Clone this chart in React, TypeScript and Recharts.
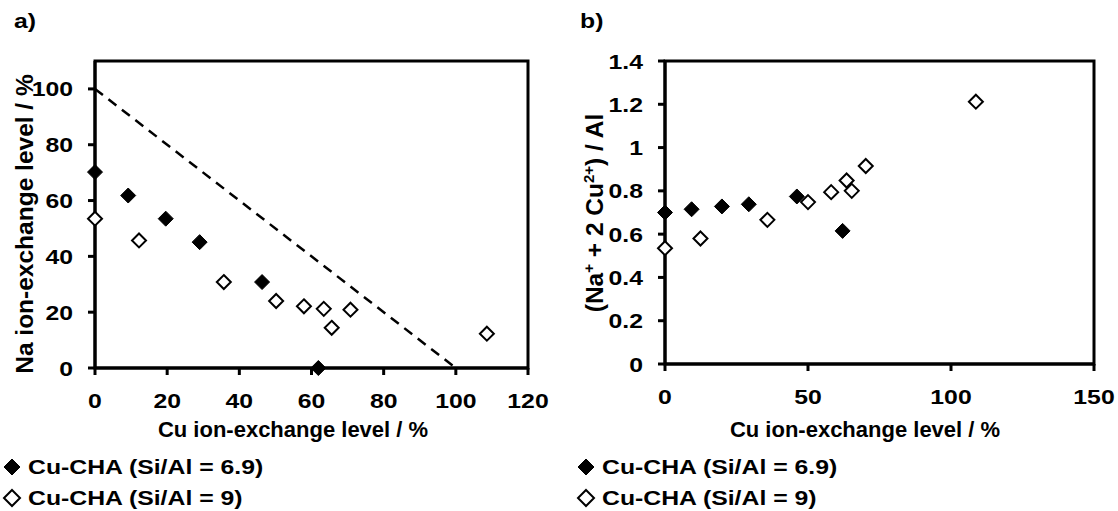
import React from 'react';
import { ScatterChart, Scatter, XAxis, YAxis, ReferenceLine, ReferenceArea, Label } from 'recharts';

const FONT = '"Liberation Sans", Arial, Helvetica, sans-serif';
const STRETCH = 1.18;

const seriesNames = ['Cu-CHA (Si/Al = 6.9)', 'Cu-CHA (Si/Al = 9)'];

// Panel a: Na ion-exchange level vs Cu ion-exchange level
const aCuFilled = [0, 9.2, 19.6, 29.0, 46.3, 61.9];
const aNaFilled = [70.2, 61.8, 53.5, 45.1, 30.8, 0];
const aCuOpen = [0, 12.2, 35.7, 50.2, 57.9, 63.4, 65.6, 70.8, 108.6];
const aNaOpen = [53.5, 45.7, 30.8, 24.0, 22.1, 21.2, 14.4, 20.9, 12.3];
const aLineX = [0, 100];
const aLineY = [100, 0];
const aXTicks = [0, 20, 40, 60, 80, 100, 120];
const aYTicks = [0, 20, 40, 60, 80, 100];
const aXDomain = [0, 120];
const aYDomain = [0, 110];

// Panel b: (Na+ + 2 Cu2+)/Al vs Cu ion-exchange level
const bCuFilled = [0, 9.3, 19.9, 29.3, 46.1, 62.1];
const bRatioFilled = [0.70, 0.715, 0.728, 0.738, 0.774, 0.615];
const bCuOpen = [0, 12.4, 35.8, 50.0, 58.1, 63.5, 65.3, 70.2, 108.7];
const bRatioOpen = [0.535, 0.58, 0.666, 0.748, 0.794, 0.848, 0.80, 0.915, 1.212];
const bXTicks = [0, 50, 100, 150];
const bYTicks = [0, 0.2, 0.4, 0.6, 0.8, 1, 1.2, 1.4];
const bXDomain = [0, 150];
const bYDomain = [0, 1.4];

const zip = (xs: number[], ys: number[]) => xs.map((x, i) => ({ x, y: ys[i] }));

const makeDiamond = (filled: boolean) => (props: any) => {
  const { cx, cy } = props;
  if (cx == null || cy == null) return <g />;
  const r = filled ? 7.5 : 7;
  return (
    <polygon
      points={`${cx},${cy - r} ${cx + r},${cy} ${cx},${cy + r} ${cx - r},${cy}`}
      fill={filled ? '#000' : '#fff'}
      stroke="#000"
      strokeWidth={filled ? 1 : 2}
    />
  );
};
const FilledDiamond = makeDiamond(true);
const OpenDiamond = makeDiamond(false);

const XTick = (props: any) => {
  const { x, y, payload } = props;
  return (
    <text
      transform={`translate(${x},${y}) scale(${STRETCH},1)`}
      textAnchor="middle"
      dy="0.71em"
      fontFamily={FONT}
      fontWeight="bold"
      fontSize={21}
      fill="#000"
    >
      {payload.value}
    </text>
  );
};

const YTick = (props: any) => {
  const { x, y, payload } = props;
  return (
    <text
      transform={`translate(${x},${y}) scale(${STRETCH},1)`}
      textAnchor="end"
      dy="0.36em"
      fontFamily={FONT}
      fontWeight="bold"
      fontSize={21}
      fill="#000"
    >
      {payload.value}
    </text>
  );
};

const axisLineStyle = { stroke: '#000', strokeWidth: 3 };
const tickLineStyle = { stroke: '#000', strokeWidth: 3 };

const titleText = (x: number, y: number, content: React.ReactNode, size: number, rotate = false) => () => (
  <text
    x={x}
    y={y}
    textAnchor="middle"
    fontFamily={FONT}
    fontWeight="bold"
    fontSize={size}
    fill="#000"
    transform={rotate ? `rotate(-90 ${x} ${y})` : undefined}
  >
    {content}
  </text>
);

const stretchStyle: React.CSSProperties = {
  display: 'inline-block',
  transform: `scaleX(${STRETCH})`,
  transformOrigin: 'left center',
};

const LegendBlock = ({ left }: { left: number }) => (
  <div style={{ position: 'absolute', left, top: 451, fontFamily: FONT, fontWeight: 'bold', fontSize: 21, color: '#000', lineHeight: '31px' }}>
    {seriesNames.map((name, i) => (
      <div key={name} style={{ display: 'flex', alignItems: 'center', whiteSpace: 'nowrap' }}>
        <svg width={20} height={20} style={{ marginRight: 6 }}>
          <polygon points="10,2 18,10 10,18 2,10" fill={i === 0 ? '#000' : '#fff'} stroke="#000" strokeWidth={i === 0 ? 1 : 2} />
        </svg>
        <span style={stretchStyle}>{name}</span>
      </div>
    ))}
  </div>
);

const panelLabel = (left: number, text: string) => (
  <div style={{ position: 'absolute', left, top: 9, fontFamily: FONT, fontWeight: 'bold', fontSize: 21, lineHeight: '24px' }}>
    <span style={stretchStyle}>{text}</span>
  </div>
);

export default function App() {
  const aFilled = zip(aCuFilled, aNaFilled);
  const aOpen = zip(aCuOpen, aNaOpen);
  const bFilled = zip(bCuFilled, bRatioFilled);
  const bOpen = zip(bCuOpen, bRatioOpen);
  const aSegment = zip(aLineX, aLineY);

  return (
    <div style={{ position: 'absolute', left: 0, top: 0, width: 1118, height: 511, background: '#fff', overflow: 'hidden' }}>
      {panelLabel(14, 'a)')}
      {panelLabel(580, 'b)')}

      <div style={{ position: 'absolute', left: 0, top: 0 }}>
        <ScatterChart width={560} height={511} margin={{ top: 61, right: 32, bottom: 103, left: 35 }}>
          <XAxis
            type="number"
            dataKey="x"
            domain={aXDomain}
            ticks={aXTicks}
            interval={0}
            tick={<XTick />}
            axisLine={axisLineStyle}
            tickLine={tickLineStyle}
            tickSize={7}
            tickMargin={18}
            height={40}
          >
            <Label content={titleText(293, 437, 'Cu ion-exchange level / %', 22)} />
          </XAxis>
          <YAxis
            type="number"
            dataKey="y"
            domain={aYDomain}
            ticks={aYTicks}
            interval={0}
            tick={<YTick />}
            axisLine={axisLineStyle}
            tickLine={tickLineStyle}
            tickSize={7}
            tickMargin={15}
            width={60}
          >
            <Label content={titleText(33, 224, 'Na ion-exchange level / %', 24.5, true)} />
          </YAxis>
          <ReferenceArea x1={aXDomain[0]} x2={aXDomain[1]} y1={aYDomain[0]} y2={aYDomain[1]} fill="none" stroke="#000" strokeWidth={3} />
          <ReferenceLine segment={aSegment} stroke="#000" strokeWidth={2.5} strokeDasharray="10 7" />
          <Scatter name={seriesNames[0]} data={aFilled} shape={FilledDiamond} isAnimationActive={false} />
          <Scatter name={seriesNames[1]} data={aOpen} shape={OpenDiamond} isAnimationActive={false} />
        </ScatterChart>
      </div>

      <div style={{ position: 'absolute', left: 560, top: 0 }}>
        <ScatterChart width={558} height={511} margin={{ top: 61, right: 24, bottom: 107, left: 45 }}>
          <XAxis
            type="number"
            dataKey="x"
            domain={bXDomain}
            ticks={bXTicks}
            interval={0}
            tick={<XTick />}
            axisLine={axisLineStyle}
            tickLine={tickLineStyle}
            tickSize={7}
            tickMargin={18}
            height={40}
          >
            <Label content={titleText(305, 437, 'Cu ion-exchange level  / %', 22)} />
          </XAxis>
          <YAxis
            type="number"
            dataKey="y"
            domain={bYDomain}
            ticks={bYTicks}
            interval={0}
            tick={<YTick />}
            axisLine={axisLineStyle}
            tickLine={tickLineStyle}
            tickSize={7}
            tickMargin={15}
            width={60}
          >
            <Label
              content={titleText(
                43,
                213,
                <>
                  (Na<tspan dy={-9} fontSize={15}>+</tspan>
                  <tspan dy={9}> + 2 Cu</tspan>
                  <tspan dy={-9} fontSize={15}>2+</tspan>
                  <tspan dy={9}>) / Al</tspan>
                </>,
                24.5,
                true
              )}
            />
          </YAxis>
          <ReferenceArea x1={bXDomain[0]} x2={bXDomain[1]} y1={bYDomain[0]} y2={bYDomain[1]} fill="none" stroke="#000" strokeWidth={3} />
          <Scatter name={seriesNames[0]} data={bFilled} shape={FilledDiamond} isAnimationActive={false} />
          <Scatter name={seriesNames[1]} data={bOpen} shape={OpenDiamond} isAnimationActive={false} />
        </ScatterChart>
      </div>

      <LegendBlock left={2} />
      <LegendBlock left={576} />
    </div>
  );
}
